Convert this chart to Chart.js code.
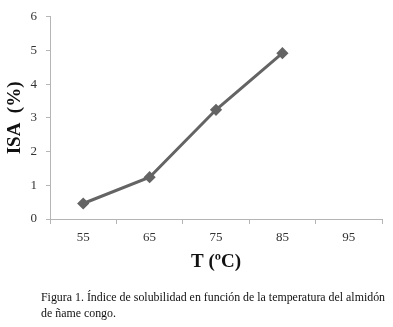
<!DOCTYPE html>
<html>
<head>
<meta charset="utf-8">
<script src="https://cdn.jsdelivr.net/npm/chart.js@4"></script>
<style>
  html, body { margin: 0; padding: 0; background: #fff; }
  #wrap { position: relative; width: 393px; height: 327px; }
  #caption {
    position: absolute; left: 41px; top: 289px; white-space: nowrap;
    font-family: "Liberation Serif", serif; font-size: 11.9px; line-height: 16px; color: #111;
  }
</style>
</head>
<body>
<div id="wrap">
  <canvas id="chart" width="393" height="327"></canvas>
  <div id="caption">Figura 1. Índice de solubilidad en función de la temperatura del almidón<br>de ñame congo.</div>
</div>
<script>
"use strict";

// temperatura (ºC) e índice de solubilidad (%)
var temperatures = ["55", "65", "75", "85", "95"];
var isaValues = [0.46, 1.24, 3.24, 4.92, null];
var yTicks = [0, 1, 2, 3, 4, 5, 6];

var axisColor = "#b5b5b5";
var tickFont = { family: "Liberation Serif", size: 13 };
var titleFont = { family: "Liberation Serif", size: 19, weight: "bold" };

new Chart(document.getElementById("chart").getContext("2d"), {
  type: "line",
  data: {
    labels: temperatures,
    datasets: [
      {
        data: isaValues,
        borderColor: "#646464",
        backgroundColor: "#646464",
        borderWidth: 3,
        pointStyle: "rectRot",
        pointRadius: 4,
        fill: false,
        tension: 0
      }
    ]
  },
  options: {
    responsive: false,
    animation: false,
    layout: { padding: { left: 0, right: 11, top: 14, bottom: 50 } },
    plugins: { legend: { display: false }, tooltip: { enabled: false } },
    scales: {
      x: {
        offset: true,
        grid: { offset: true, drawOnChartArea: false, color: axisColor, tickLength: 5 },
        border: { color: axisColor },
        ticks: { color: "#333", font: tickFont, padding: 6 },
        title: { display: true, text: "T (ºC)", color: "#111", font: titleFont, padding: { top: 4, bottom: 4 } },
        afterFit: function(scale) { scale.height = 58; }
      },
      y: {
        min: 0,
        max: 6,
        afterBuildTicks: function(scale) {
          scale.ticks = yTicks.map(function(v) { return { value: v }; });
        },
        grid: { drawOnChartArea: false, color: axisColor, tickLength: 4 },
        border: { color: axisColor },
        ticks: { color: "#333", font: tickFont, padding: 9 },
        title: { display: true, text: "ISA  (%)", color: "#111", font: titleFont, padding: 4 },
        afterFit: function(scale) { scale.width = 50; }
      }
    }
  }
});
</script>
</body>
</html>
